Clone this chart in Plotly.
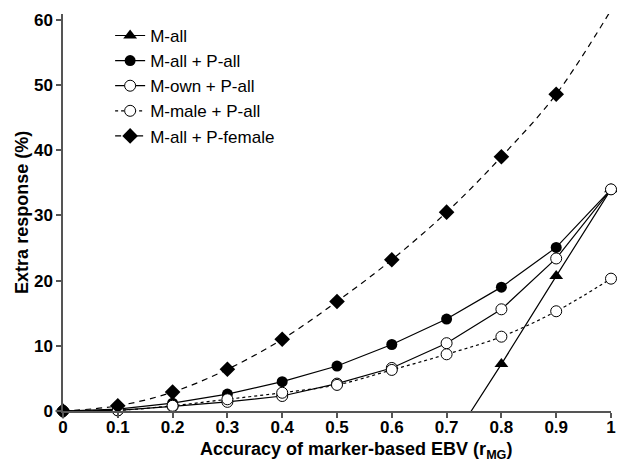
import plotly.graph_objects as go

accuracy = [0, 0.1, 0.2, 0.3, 0.4, 0.5, 0.6, 0.7, 0.8, 0.9, 1.0]
m_all_x = [0.7, 0.8, 0.9, 1.0]
m_all = [-5.9, 7.2, 20.7, 34.0]
m_all_p_all = [0, 0.3, 1.2, 2.6, 4.5, 6.9, 10.2, 14.1, 19.0, 25.1, 34.0]
m_own_p_all = [0, 0.1, 0.7, 1.4, 2.3, 4.2, 6.6, 10.4, 15.6, 23.4, 34.0]
m_male_p_all = [0, 0.1, 0.8, 1.8, 2.8, 4.0, 6.3, 8.7, 11.4, 15.3, 20.3]
m_all_p_female = [0, 0.8, 2.9, 6.4, 11.0, 16.8, 23.2, 30.5, 39.0, 48.6, 61.5]
y_ticks = [0, 10, 20, 30, 40, 50, 60]
x_ticks = accuracy
x_tick_labels = ["0", "0.1", "0.2", "0.3", "0.4", "0.5", "0.6", "0.7", "0.8", "0.9", "1"]
x_title = "Accuracy of marker-based EBV (r<sub>MG</sub>)"
y_title = "Extra response (%)"

Y_MAX = 60.9
FONT = "Liberation Sans, Arial"

fig = go.Figure()

fig.add_trace(go.Scatter(
    x=m_all_x, y=m_all, name="M-all", mode="lines+markers",
    line=dict(color="black", width=1.2),
    marker=dict(symbol="triangle-up", size=12, color="black", line=dict(width=0)),
    cliponaxis=False))
fig.add_trace(go.Scatter(
    x=accuracy, y=m_all_p_all, name="M-all + P-all", mode="lines+markers",
    line=dict(color="black", width=1.2),
    marker=dict(symbol="circle", size=11, color="black", line=dict(width=0)),
    cliponaxis=False))
fig.add_trace(go.Scatter(
    x=accuracy, y=m_own_p_all, name="M-own + P-all", mode="lines+markers",
    line=dict(color="black", width=1.2),
    marker=dict(symbol="circle", size=11, color="white",
                line=dict(color="black", width=1)),
    cliponaxis=False))
fig.add_trace(go.Scatter(
    x=accuracy, y=m_male_p_all, name="M-male + P-all", mode="lines+markers",
    line=dict(color="black", width=1.2, dash="dot", shape="spline"),
    marker=dict(symbol="circle", size=11, color="white",
                line=dict(color="black", width=1)),
    cliponaxis=False))
fig.add_trace(go.Scatter(
    x=accuracy, y=m_all_p_female, name="M-all + P-female", mode="lines+markers",
    line=dict(color="black", width=1.2, dash="6px,5px", shape="spline"),
    marker=dict(symbol="diamond", size=12, color="black", line=dict(width=0)),
    cliponaxis=False))

axis_common = dict(
    showline=True, linecolor="#555555", linewidth=1.5,
    ticks="outside", ticklen=5, tickcolor="#555555", tickwidth=1.5,
    showgrid=False, zeroline=False, ticklabeloverflow="allow",
    tickfont=dict(family=FONT, size=17, color="black", weight="bold"),
)

fig.update_layout(
    width=617, height=467,
    margin=dict(l=63, r=6, t=14, b=56, autoexpand=False),
    paper_bgcolor="white", plot_bgcolor="white",
    font=dict(family=FONT, color="black"),
    showlegend=True,
    legend=dict(x=0.086, y=0.99, xanchor="left", yanchor="top",
                font=dict(family=FONT, size=17, color="black"),
                bgcolor="rgba(0,0,0,0)", tracegroupgap=0, itemwidth=30),
    xaxis=dict(range=[0, 1], tickvals=x_ticks, ticktext=x_tick_labels,
               ticklabelstandoff=-5, automargin=False, **axis_common),
    yaxis=dict(range=[0, Y_MAX], tickvals=y_ticks, automargin=False, **axis_common),
    annotations=[
        dict(text=x_title, xref="paper", yref="paper", x=0.535, y=0,
             xanchor="center", yanchor="top", yshift=-26, showarrow=False,
             font=dict(family=FONT, size=18, color="black", weight="bold")),
        dict(text=y_title, xref="paper", yref="paper", x=0, y=0.499,
             xanchor="center", yanchor="middle", xshift=-41, textangle=-90,
             showarrow=False,
             font=dict(family=FONT, size=18, color="black", weight="bold")),
    ],
)

fig.write_html(
    "out.html", config={"displayModeBar": False, "responsive": False},
    post_script=("document.body.style.margin='0';"
                 "document.documentElement.style.overflow='hidden';"
                 "document.body.style.overflow='hidden';"))
